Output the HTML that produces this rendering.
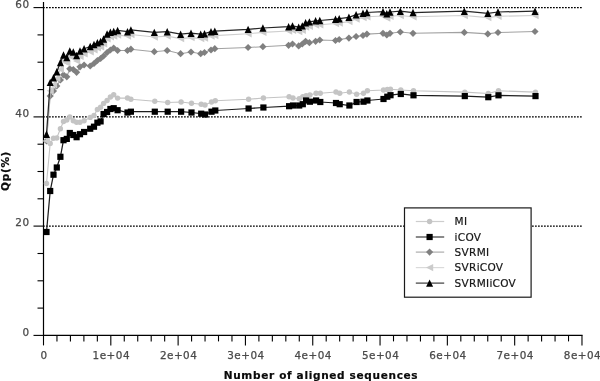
<!DOCTYPE html>
<html lang="en"><head><meta charset="utf-8"><title>Qp(%) vs Number of aligned sequences</title>
<style>html,body{margin:0;padding:0;background:#fff;width:600px;height:381px;overflow:hidden}</style>
</head><body>
<svg width="600" height="381" viewBox="0 0 600 381" style="display:block;position:absolute;left:0;top:0">
<rect width="600" height="381" fill="#fff"/>
<line x1="43" y1="226.1" x2="582" y2="226.1" stroke="#000" stroke-width="1.15" stroke-dasharray="1.75 1.25"/>
<line x1="43" y1="116.9" x2="582" y2="116.9" stroke="#000" stroke-width="1.15" stroke-dasharray="1.75 1.25"/>
<line x1="43" y1="7.6" x2="582" y2="7.6" stroke="#000" stroke-width="1.15" stroke-dasharray="1.75 1.25"/>
<line x1="43.5" y1="2" x2="43.5" y2="336.0" stroke="#000" stroke-width="1.2"/>
<line x1="42.9" y1="335.4" x2="582.6" y2="335.4" stroke="#000" stroke-width="1.2"/>
<line x1="33.5" y1="335.4" x2="43.5" y2="335.4" stroke="#000" stroke-width="1.1"/>
<line x1="37.5" y1="308.1" x2="43.5" y2="308.1" stroke="#000" stroke-width="1.1"/>
<line x1="37.5" y1="280.8" x2="43.5" y2="280.8" stroke="#000" stroke-width="1.1"/>
<line x1="37.5" y1="253.5" x2="43.5" y2="253.5" stroke="#000" stroke-width="1.1"/>
<line x1="33.5" y1="226.1" x2="43.5" y2="226.1" stroke="#000" stroke-width="1.1"/>
<line x1="37.5" y1="198.8" x2="43.5" y2="198.8" stroke="#000" stroke-width="1.1"/>
<line x1="37.5" y1="171.5" x2="43.5" y2="171.5" stroke="#000" stroke-width="1.1"/>
<line x1="37.5" y1="144.2" x2="43.5" y2="144.2" stroke="#000" stroke-width="1.1"/>
<line x1="33.5" y1="116.9" x2="43.5" y2="116.9" stroke="#000" stroke-width="1.1"/>
<line x1="37.5" y1="89.6" x2="43.5" y2="89.6" stroke="#000" stroke-width="1.1"/>
<line x1="37.5" y1="62.2" x2="43.5" y2="62.2" stroke="#000" stroke-width="1.1"/>
<line x1="37.5" y1="34.9" x2="43.5" y2="34.9" stroke="#000" stroke-width="1.1"/>
<line x1="33.5" y1="7.6" x2="43.5" y2="7.6" stroke="#000" stroke-width="1.1"/>
<line x1="43.50" y1="335.4" x2="43.50" y2="345.4" stroke="#000" stroke-width="1.1"/>
<line x1="56.96" y1="335.4" x2="56.96" y2="341.4" stroke="#000" stroke-width="1.1"/>
<line x1="70.42" y1="335.4" x2="70.42" y2="341.4" stroke="#000" stroke-width="1.1"/>
<line x1="83.89" y1="335.4" x2="83.89" y2="341.4" stroke="#000" stroke-width="1.1"/>
<line x1="97.35" y1="335.4" x2="97.35" y2="341.4" stroke="#000" stroke-width="1.1"/>
<line x1="110.81" y1="335.4" x2="110.81" y2="345.4" stroke="#000" stroke-width="1.1"/>
<line x1="124.27" y1="335.4" x2="124.27" y2="341.4" stroke="#000" stroke-width="1.1"/>
<line x1="137.73" y1="335.4" x2="137.73" y2="341.4" stroke="#000" stroke-width="1.1"/>
<line x1="151.20" y1="335.4" x2="151.20" y2="341.4" stroke="#000" stroke-width="1.1"/>
<line x1="164.66" y1="335.4" x2="164.66" y2="341.4" stroke="#000" stroke-width="1.1"/>
<line x1="178.12" y1="335.4" x2="178.12" y2="345.4" stroke="#000" stroke-width="1.1"/>
<line x1="191.58" y1="335.4" x2="191.58" y2="341.4" stroke="#000" stroke-width="1.1"/>
<line x1="205.04" y1="335.4" x2="205.04" y2="341.4" stroke="#000" stroke-width="1.1"/>
<line x1="218.51" y1="335.4" x2="218.51" y2="341.4" stroke="#000" stroke-width="1.1"/>
<line x1="231.97" y1="335.4" x2="231.97" y2="341.4" stroke="#000" stroke-width="1.1"/>
<line x1="245.43" y1="335.4" x2="245.43" y2="345.4" stroke="#000" stroke-width="1.1"/>
<line x1="258.89" y1="335.4" x2="258.89" y2="341.4" stroke="#000" stroke-width="1.1"/>
<line x1="272.35" y1="335.4" x2="272.35" y2="341.4" stroke="#000" stroke-width="1.1"/>
<line x1="285.82" y1="335.4" x2="285.82" y2="341.4" stroke="#000" stroke-width="1.1"/>
<line x1="299.28" y1="335.4" x2="299.28" y2="341.4" stroke="#000" stroke-width="1.1"/>
<line x1="312.74" y1="335.4" x2="312.74" y2="345.4" stroke="#000" stroke-width="1.1"/>
<line x1="326.20" y1="335.4" x2="326.20" y2="341.4" stroke="#000" stroke-width="1.1"/>
<line x1="339.66" y1="335.4" x2="339.66" y2="341.4" stroke="#000" stroke-width="1.1"/>
<line x1="353.13" y1="335.4" x2="353.13" y2="341.4" stroke="#000" stroke-width="1.1"/>
<line x1="366.59" y1="335.4" x2="366.59" y2="341.4" stroke="#000" stroke-width="1.1"/>
<line x1="380.05" y1="335.4" x2="380.05" y2="345.4" stroke="#000" stroke-width="1.1"/>
<line x1="393.51" y1="335.4" x2="393.51" y2="341.4" stroke="#000" stroke-width="1.1"/>
<line x1="406.97" y1="335.4" x2="406.97" y2="341.4" stroke="#000" stroke-width="1.1"/>
<line x1="420.44" y1="335.4" x2="420.44" y2="341.4" stroke="#000" stroke-width="1.1"/>
<line x1="433.90" y1="335.4" x2="433.90" y2="341.4" stroke="#000" stroke-width="1.1"/>
<line x1="447.36" y1="335.4" x2="447.36" y2="345.4" stroke="#000" stroke-width="1.1"/>
<line x1="460.82" y1="335.4" x2="460.82" y2="341.4" stroke="#000" stroke-width="1.1"/>
<line x1="474.28" y1="335.4" x2="474.28" y2="341.4" stroke="#000" stroke-width="1.1"/>
<line x1="487.75" y1="335.4" x2="487.75" y2="341.4" stroke="#000" stroke-width="1.1"/>
<line x1="501.21" y1="335.4" x2="501.21" y2="341.4" stroke="#000" stroke-width="1.1"/>
<line x1="514.67" y1="335.4" x2="514.67" y2="345.4" stroke="#000" stroke-width="1.1"/>
<line x1="528.13" y1="335.4" x2="528.13" y2="341.4" stroke="#000" stroke-width="1.1"/>
<line x1="541.59" y1="335.4" x2="541.59" y2="341.4" stroke="#000" stroke-width="1.1"/>
<line x1="555.06" y1="335.4" x2="555.06" y2="341.4" stroke="#000" stroke-width="1.1"/>
<line x1="568.52" y1="335.4" x2="568.52" y2="341.4" stroke="#000" stroke-width="1.1"/>
<line x1="581.98" y1="335.4" x2="581.98" y2="345.4" stroke="#000" stroke-width="1.1"/>
<g font-family="'DejaVu Sans','Liberation Sans',sans-serif" font-size="10.4" fill="#4a4a4a" stroke="#4a4a4a" stroke-width="0.25" letter-spacing="0.5">
<text x="29.6" y="335.7" text-anchor="end">0</text>
<text x="29.6" y="226.4" text-anchor="end">20</text>
<text x="29.6" y="117.2" text-anchor="end">40</text>
<text x="29.6" y="7.9" text-anchor="end">60</text>
<text x="44.0" y="359.2" text-anchor="middle">0</text>
<text x="111.3" y="359.2" text-anchor="middle">1e+04</text>
<text x="178.6" y="359.2" text-anchor="middle">2e+04</text>
<text x="245.9" y="359.2" text-anchor="middle">3e+04</text>
<text x="313.2" y="359.2" text-anchor="middle">4e+04</text>
<text x="380.6" y="359.2" text-anchor="middle">5e+04</text>
<text x="447.9" y="359.2" text-anchor="middle">6e+04</text>
<text x="515.2" y="359.2" text-anchor="middle">7e+04</text>
<text x="582.5" y="359.2" text-anchor="middle">8e+04</text>
</g>
<g font-family="'DejaVu Sans','Liberation Sans',sans-serif" font-size="10.5" font-weight="bold" fill="#0a0a0a" stroke="#0a0a0a" stroke-width="0.2" letter-spacing="0.68">
<text x="321" y="379.1" text-anchor="middle">Number of aligned sequences</text>
<text transform="translate(8.6,170.9) rotate(-90)" text-anchor="middle">Qp(%)</text>
</g>
<polyline points="46.5,183.5 50.2,143.4 53.5,138.2 56.8,138.0 60.4,128.8 63.5,121.5 66.8,120.0 69.8,117.0 73.3,120.7 76.6,122.2 80.0,122.2 84.1,120.7 90.2,117.4 94.0,115.5 97.4,109.5 100.6,107.2 103.6,103.4 107.1,100.5 110.4,97.0 113.7,94.7 117.6,98.1 127.5,98.0 130.9,99.2 154.8,101.2 167.7,102.5 181.1,102.0 191.5,103.2 201.2,104.2 205.0,105.0 211.5,102.0 215.3,100.7 248.6,99.3 263.4,98.0 289.1,96.7 293.0,98.0 299.2,98.7 302.8,96.7 306.1,95.7 309.9,95.0 316.1,93.2 320.3,93.2 336.0,92.0 339.7,93.2 349.4,92.0 356.6,94.2 363.5,93.2 367.4,90.7 383.5,90.0 387.3,89.5 390.5,89.2 400.8,90.0 413.5,90.8 464.8,92.1 488.3,93.5 498.5,90.8 535.5,92.1" fill="none" stroke="#c4c4c4" stroke-width="1.1"/>
<circle cx="46.5" cy="183.5" r="2.7" fill="#c4c4c4"/><circle cx="50.2" cy="143.4" r="2.7" fill="#c4c4c4"/><circle cx="53.5" cy="138.2" r="2.7" fill="#c4c4c4"/><circle cx="56.8" cy="138.0" r="2.7" fill="#c4c4c4"/><circle cx="60.4" cy="128.8" r="2.7" fill="#c4c4c4"/><circle cx="63.5" cy="121.5" r="2.7" fill="#c4c4c4"/><circle cx="66.8" cy="120.0" r="2.7" fill="#c4c4c4"/><circle cx="69.8" cy="117.0" r="2.7" fill="#c4c4c4"/><circle cx="73.3" cy="120.7" r="2.7" fill="#c4c4c4"/><circle cx="76.6" cy="122.2" r="2.7" fill="#c4c4c4"/><circle cx="80.0" cy="122.2" r="2.7" fill="#c4c4c4"/><circle cx="84.1" cy="120.7" r="2.7" fill="#c4c4c4"/><circle cx="90.2" cy="117.4" r="2.7" fill="#c4c4c4"/><circle cx="94.0" cy="115.5" r="2.7" fill="#c4c4c4"/><circle cx="97.4" cy="109.5" r="2.7" fill="#c4c4c4"/><circle cx="100.6" cy="107.2" r="2.7" fill="#c4c4c4"/><circle cx="103.6" cy="103.4" r="2.7" fill="#c4c4c4"/><circle cx="107.1" cy="100.5" r="2.7" fill="#c4c4c4"/><circle cx="110.4" cy="97.0" r="2.7" fill="#c4c4c4"/><circle cx="113.7" cy="94.7" r="2.7" fill="#c4c4c4"/><circle cx="117.6" cy="98.1" r="2.7" fill="#c4c4c4"/><circle cx="127.5" cy="98.0" r="2.7" fill="#c4c4c4"/><circle cx="130.9" cy="99.2" r="2.7" fill="#c4c4c4"/><circle cx="154.8" cy="101.2" r="2.7" fill="#c4c4c4"/><circle cx="167.7" cy="102.5" r="2.7" fill="#c4c4c4"/><circle cx="181.1" cy="102.0" r="2.7" fill="#c4c4c4"/><circle cx="191.5" cy="103.2" r="2.7" fill="#c4c4c4"/><circle cx="201.2" cy="104.2" r="2.7" fill="#c4c4c4"/><circle cx="205.0" cy="105.0" r="2.7" fill="#c4c4c4"/><circle cx="211.5" cy="102.0" r="2.7" fill="#c4c4c4"/><circle cx="215.3" cy="100.7" r="2.7" fill="#c4c4c4"/><circle cx="248.6" cy="99.3" r="2.7" fill="#c4c4c4"/><circle cx="263.4" cy="98.0" r="2.7" fill="#c4c4c4"/><circle cx="289.1" cy="96.7" r="2.7" fill="#c4c4c4"/><circle cx="293.0" cy="98.0" r="2.7" fill="#c4c4c4"/><circle cx="299.2" cy="98.7" r="2.7" fill="#c4c4c4"/><circle cx="302.8" cy="96.7" r="2.7" fill="#c4c4c4"/><circle cx="306.1" cy="95.7" r="2.7" fill="#c4c4c4"/><circle cx="309.9" cy="95.0" r="2.7" fill="#c4c4c4"/><circle cx="316.1" cy="93.2" r="2.7" fill="#c4c4c4"/><circle cx="320.3" cy="93.2" r="2.7" fill="#c4c4c4"/><circle cx="336.0" cy="92.0" r="2.7" fill="#c4c4c4"/><circle cx="339.7" cy="93.2" r="2.7" fill="#c4c4c4"/><circle cx="349.4" cy="92.0" r="2.7" fill="#c4c4c4"/><circle cx="356.6" cy="94.2" r="2.7" fill="#c4c4c4"/><circle cx="363.5" cy="93.2" r="2.7" fill="#c4c4c4"/><circle cx="367.4" cy="90.7" r="2.7" fill="#c4c4c4"/><circle cx="383.5" cy="90.0" r="2.7" fill="#c4c4c4"/><circle cx="387.3" cy="89.5" r="2.7" fill="#c4c4c4"/><circle cx="390.5" cy="89.2" r="2.7" fill="#c4c4c4"/><circle cx="400.8" cy="90.0" r="2.7" fill="#c4c4c4"/><circle cx="413.5" cy="90.8" r="2.7" fill="#c4c4c4"/><circle cx="464.8" cy="92.1" r="2.7" fill="#c4c4c4"/><circle cx="488.3" cy="93.5" r="2.7" fill="#c4c4c4"/><circle cx="498.5" cy="90.8" r="2.7" fill="#c4c4c4"/><circle cx="535.5" cy="92.1" r="2.7" fill="#c4c4c4"/>
<polyline points="46.5,232.0 50.2,191.0 53.5,174.7 56.8,167.5 60.4,156.8 63.5,140.2 66.8,138.9 69.8,133.0 73.3,135.0 76.6,137.2 80.0,134.2 84.1,132.0 90.2,128.7 94.0,126.7 97.4,122.7 100.6,121.4 103.6,114.0 107.1,112.0 110.4,109.0 113.7,108.2 117.6,110.2 127.5,112.5 130.9,111.7 154.8,111.7 167.7,111.7 181.1,111.7 191.5,112.5 201.2,113.7 205.0,114.5 211.5,111.7 215.3,110.5 248.6,108.5 263.4,107.5 289.1,106.2 293.0,105.5 299.2,105.5 302.8,104.2 306.1,100.5 309.9,101.7 316.1,100.5 320.3,102.0 336.0,103.0 339.7,104.2 349.4,105.5 356.6,102.0 363.5,101.7 367.4,100.5 383.5,99.0 387.3,96.7 390.5,95.2 400.8,94.0 413.5,95.3 464.8,96.1 488.3,97.2 498.5,95.3 535.5,96.1" fill="none" stroke="#1e1e1e" stroke-width="1.25"/>
<rect x="43.4" y="228.9" width="6.2" height="6.2" fill="#000"/><rect x="47.1" y="187.9" width="6.2" height="6.2" fill="#000"/><rect x="50.4" y="171.6" width="6.2" height="6.2" fill="#000"/><rect x="53.7" y="164.4" width="6.2" height="6.2" fill="#000"/><rect x="57.3" y="153.7" width="6.2" height="6.2" fill="#000"/><rect x="60.4" y="137.1" width="6.2" height="6.2" fill="#000"/><rect x="63.7" y="135.8" width="6.2" height="6.2" fill="#000"/><rect x="66.7" y="129.9" width="6.2" height="6.2" fill="#000"/><rect x="70.2" y="131.9" width="6.2" height="6.2" fill="#000"/><rect x="73.5" y="134.1" width="6.2" height="6.2" fill="#000"/><rect x="76.9" y="131.1" width="6.2" height="6.2" fill="#000"/><rect x="81.0" y="128.9" width="6.2" height="6.2" fill="#000"/><rect x="87.1" y="125.6" width="6.2" height="6.2" fill="#000"/><rect x="90.9" y="123.6" width="6.2" height="6.2" fill="#000"/><rect x="94.3" y="119.6" width="6.2" height="6.2" fill="#000"/><rect x="97.5" y="118.3" width="6.2" height="6.2" fill="#000"/><rect x="100.5" y="110.9" width="6.2" height="6.2" fill="#000"/><rect x="104.0" y="108.9" width="6.2" height="6.2" fill="#000"/><rect x="107.3" y="105.9" width="6.2" height="6.2" fill="#000"/><rect x="110.6" y="105.1" width="6.2" height="6.2" fill="#000"/><rect x="114.5" y="107.1" width="6.2" height="6.2" fill="#000"/><rect x="124.4" y="109.4" width="6.2" height="6.2" fill="#000"/><rect x="127.8" y="108.6" width="6.2" height="6.2" fill="#000"/><rect x="151.7" y="108.6" width="6.2" height="6.2" fill="#000"/><rect x="164.6" y="108.6" width="6.2" height="6.2" fill="#000"/><rect x="178.0" y="108.6" width="6.2" height="6.2" fill="#000"/><rect x="188.4" y="109.4" width="6.2" height="6.2" fill="#000"/><rect x="198.1" y="110.6" width="6.2" height="6.2" fill="#000"/><rect x="201.9" y="111.4" width="6.2" height="6.2" fill="#000"/><rect x="208.4" y="108.6" width="6.2" height="6.2" fill="#000"/><rect x="212.2" y="107.4" width="6.2" height="6.2" fill="#000"/><rect x="245.5" y="105.4" width="6.2" height="6.2" fill="#000"/><rect x="260.3" y="104.4" width="6.2" height="6.2" fill="#000"/><rect x="286.0" y="103.1" width="6.2" height="6.2" fill="#000"/><rect x="289.9" y="102.4" width="6.2" height="6.2" fill="#000"/><rect x="296.1" y="102.4" width="6.2" height="6.2" fill="#000"/><rect x="299.7" y="101.1" width="6.2" height="6.2" fill="#000"/><rect x="303.0" y="97.4" width="6.2" height="6.2" fill="#000"/><rect x="306.8" y="98.6" width="6.2" height="6.2" fill="#000"/><rect x="313.0" y="97.4" width="6.2" height="6.2" fill="#000"/><rect x="317.2" y="98.9" width="6.2" height="6.2" fill="#000"/><rect x="332.9" y="99.9" width="6.2" height="6.2" fill="#000"/><rect x="336.6" y="101.1" width="6.2" height="6.2" fill="#000"/><rect x="346.3" y="102.4" width="6.2" height="6.2" fill="#000"/><rect x="353.5" y="98.9" width="6.2" height="6.2" fill="#000"/><rect x="360.4" y="98.6" width="6.2" height="6.2" fill="#000"/><rect x="364.3" y="97.4" width="6.2" height="6.2" fill="#000"/><rect x="380.4" y="95.9" width="6.2" height="6.2" fill="#000"/><rect x="384.2" y="93.6" width="6.2" height="6.2" fill="#000"/><rect x="387.4" y="92.1" width="6.2" height="6.2" fill="#000"/><rect x="397.7" y="90.9" width="6.2" height="6.2" fill="#000"/><rect x="410.4" y="92.2" width="6.2" height="6.2" fill="#000"/><rect x="461.7" y="93.0" width="6.2" height="6.2" fill="#000"/><rect x="485.2" y="94.1" width="6.2" height="6.2" fill="#000"/><rect x="495.4" y="92.2" width="6.2" height="6.2" fill="#000"/><rect x="532.4" y="93.0" width="6.2" height="6.2" fill="#000"/>
<polyline points="46.5,141.0 50.2,96.0 53.5,91.0 56.8,86.0 60.4,80.0 63.5,74.8 66.8,76.8 69.8,68.8 73.3,69.5 76.6,72.3 80.0,66.8 84.1,65.0 90.2,66.0 94.0,63.5 97.4,60.5 100.6,58.5 103.6,56.0 107.1,52.5 110.4,50.0 113.7,48.0 117.6,50.5 127.5,50.5 130.9,49.2 154.3,51.7 167.2,50.5 180.6,53.7 191.0,52.0 200.7,53.7 204.5,52.5 211.0,50.0 214.8,48.7 248.1,47.5 262.9,46.7 288.6,45.3 292.5,44.0 298.7,45.9 302.3,44.0 305.6,41.3 309.4,42.7 315.6,41.3 319.8,40.0 335.5,40.5 339.2,39.5 348.9,38.1 356.1,36.5 363.0,35.5 366.9,34.1 383.0,33.3 386.8,35.0 390.0,33.3 400.3,32.0 413.0,33.3 464.3,32.4 487.8,33.9 498.0,32.5 535.0,31.5" fill="none" stroke="#a2a2a2" stroke-width="1.1"/>
<path d="M46.5 137.4L50.1 141.0L46.5 144.6L42.9 141.0Z" fill="#808080"/><path d="M50.2 92.4L53.8 96.0L50.2 99.6L46.6 96.0Z" fill="#808080"/><path d="M53.5 87.4L57.1 91.0L53.5 94.6L49.9 91.0Z" fill="#808080"/><path d="M56.8 82.4L60.4 86.0L56.8 89.6L53.2 86.0Z" fill="#808080"/><path d="M60.4 76.4L64.0 80.0L60.4 83.6L56.8 80.0Z" fill="#808080"/><path d="M63.5 71.2L67.1 74.8L63.5 78.4L59.9 74.8Z" fill="#808080"/><path d="M66.8 73.2L70.4 76.8L66.8 80.4L63.2 76.8Z" fill="#808080"/><path d="M69.8 65.2L73.4 68.8L69.8 72.4L66.2 68.8Z" fill="#808080"/><path d="M73.3 65.9L76.9 69.5L73.3 73.1L69.7 69.5Z" fill="#808080"/><path d="M76.6 68.7L80.2 72.3L76.6 75.9L73.0 72.3Z" fill="#808080"/><path d="M80.0 63.2L83.6 66.8L80.0 70.4L76.4 66.8Z" fill="#808080"/><path d="M84.1 61.4L87.7 65.0L84.1 68.6L80.5 65.0Z" fill="#808080"/><path d="M90.2 62.4L93.8 66.0L90.2 69.6L86.6 66.0Z" fill="#808080"/><path d="M94.0 59.9L97.6 63.5L94.0 67.1L90.4 63.5Z" fill="#808080"/><path d="M97.4 56.9L101.0 60.5L97.4 64.1L93.8 60.5Z" fill="#808080"/><path d="M100.6 54.9L104.2 58.5L100.6 62.1L97.0 58.5Z" fill="#808080"/><path d="M103.6 52.4L107.2 56.0L103.6 59.6L100.0 56.0Z" fill="#808080"/><path d="M107.1 48.9L110.7 52.5L107.1 56.1L103.5 52.5Z" fill="#808080"/><path d="M110.4 46.4L114.0 50.0L110.4 53.6L106.8 50.0Z" fill="#808080"/><path d="M113.7 44.4L117.3 48.0L113.7 51.6L110.1 48.0Z" fill="#808080"/><path d="M117.6 46.9L121.2 50.5L117.6 54.1L114.0 50.5Z" fill="#808080"/><path d="M127.5 46.9L131.1 50.5L127.5 54.1L123.9 50.5Z" fill="#808080"/><path d="M130.9 45.6L134.5 49.2L130.9 52.8L127.3 49.2Z" fill="#808080"/><path d="M154.3 48.1L157.9 51.7L154.3 55.3L150.7 51.7Z" fill="#808080"/><path d="M167.2 46.9L170.8 50.5L167.2 54.1L163.6 50.5Z" fill="#808080"/><path d="M180.6 50.1L184.2 53.7L180.6 57.3L177.0 53.7Z" fill="#808080"/><path d="M191.0 48.4L194.6 52.0L191.0 55.6L187.4 52.0Z" fill="#808080"/><path d="M200.7 50.1L204.3 53.7L200.7 57.3L197.1 53.7Z" fill="#808080"/><path d="M204.5 48.9L208.1 52.5L204.5 56.1L200.9 52.5Z" fill="#808080"/><path d="M211.0 46.4L214.6 50.0L211.0 53.6L207.4 50.0Z" fill="#808080"/><path d="M214.8 45.1L218.4 48.7L214.8 52.3L211.2 48.7Z" fill="#808080"/><path d="M248.1 43.9L251.7 47.5L248.1 51.1L244.5 47.5Z" fill="#808080"/><path d="M262.9 43.1L266.5 46.7L262.9 50.3L259.3 46.7Z" fill="#808080"/><path d="M288.6 41.7L292.2 45.3L288.6 48.9L285.0 45.3Z" fill="#808080"/><path d="M292.5 40.4L296.1 44.0L292.5 47.6L288.9 44.0Z" fill="#808080"/><path d="M298.7 42.3L302.3 45.9L298.7 49.5L295.1 45.9Z" fill="#808080"/><path d="M302.3 40.4L305.9 44.0L302.3 47.6L298.7 44.0Z" fill="#808080"/><path d="M305.6 37.7L309.2 41.3L305.6 44.9L302.0 41.3Z" fill="#808080"/><path d="M309.4 39.1L313.0 42.7L309.4 46.3L305.8 42.7Z" fill="#808080"/><path d="M315.6 37.7L319.2 41.3L315.6 44.9L312.0 41.3Z" fill="#808080"/><path d="M319.8 36.4L323.4 40.0L319.8 43.6L316.2 40.0Z" fill="#808080"/><path d="M335.5 36.9L339.1 40.5L335.5 44.1L331.9 40.5Z" fill="#808080"/><path d="M339.2 35.9L342.8 39.5L339.2 43.1L335.6 39.5Z" fill="#808080"/><path d="M348.9 34.5L352.5 38.1L348.9 41.7L345.3 38.1Z" fill="#808080"/><path d="M356.1 32.9L359.7 36.5L356.1 40.1L352.5 36.5Z" fill="#808080"/><path d="M363.0 31.9L366.6 35.5L363.0 39.1L359.4 35.5Z" fill="#808080"/><path d="M366.9 30.5L370.5 34.1L366.9 37.7L363.3 34.1Z" fill="#808080"/><path d="M383.0 29.7L386.6 33.3L383.0 36.9L379.4 33.3Z" fill="#808080"/><path d="M386.8 31.4L390.4 35.0L386.8 38.6L383.2 35.0Z" fill="#808080"/><path d="M390.0 29.7L393.6 33.3L390.0 36.9L386.4 33.3Z" fill="#808080"/><path d="M400.3 28.4L403.9 32.0L400.3 35.6L396.7 32.0Z" fill="#808080"/><path d="M413.0 29.7L416.6 33.3L413.0 36.9L409.4 33.3Z" fill="#808080"/><path d="M464.3 28.8L467.9 32.4L464.3 36.0L460.7 32.4Z" fill="#808080"/><path d="M487.8 30.3L491.4 33.9L487.8 37.5L484.2 33.9Z" fill="#808080"/><path d="M498.0 28.9L501.6 32.5L498.0 36.1L494.4 32.5Z" fill="#808080"/><path d="M535.0 27.9L538.6 31.5L535.0 35.1L531.4 31.5Z" fill="#808080"/>
<polyline points="46.5,141.0 50.2,90.8 53.5,84.8 56.8,78.3 60.4,69.4 63.5,60.9 66.8,62.9 69.8,56.4 73.3,57.4 76.6,60.9 80.0,56.4 84.1,53.9 90.2,51.7 94.0,49.7 97.4,47.9 100.6,46.7 103.6,43.9 107.1,38.8 110.4,36.8 113.7,36.0 117.6,35.1 127.5,36.1 130.9,34.5 154.3,37.0 167.2,36.1 180.6,38.6 191.0,37.6 200.7,38.6 204.5,38.1 211.0,36.1 214.8,35.6 248.1,33.8 262.9,32.4 288.6,31.0 292.5,30.2 298.7,31.5 302.3,30.2 305.6,27.0 309.4,26.2 315.6,25.1 319.8,24.8 335.5,23.5 339.2,23.0 348.9,21.6 356.1,19.0 363.0,17.6 366.9,16.8 383.0,16.0 386.8,18.0 390.0,16.3 400.3,15.5 413.0,16.8 464.3,15.5 487.8,17.6 498.0,16.3 535.0,15.5" fill="none" stroke="#cecece" stroke-width="1.1"/>
<path d="M42.9 141.0L50.1 137.3L50.1 144.7Z" fill="#cbcbcb"/><path d="M46.6 90.8L53.8 87.1L53.8 94.5Z" fill="#cbcbcb"/><path d="M49.9 84.8L57.1 81.1L57.1 88.5Z" fill="#cbcbcb"/><path d="M53.2 78.3L60.4 74.6L60.4 82.0Z" fill="#cbcbcb"/><path d="M56.8 69.4L64.0 65.7L64.0 73.1Z" fill="#cbcbcb"/><path d="M59.9 60.9L67.1 57.2L67.1 64.6Z" fill="#cbcbcb"/><path d="M63.2 62.9L70.4 59.2L70.4 66.6Z" fill="#cbcbcb"/><path d="M66.2 56.4L73.4 52.7L73.4 60.1Z" fill="#cbcbcb"/><path d="M69.7 57.4L76.9 53.7L76.9 61.1Z" fill="#cbcbcb"/><path d="M73.0 60.9L80.2 57.2L80.2 64.6Z" fill="#cbcbcb"/><path d="M76.4 56.4L83.6 52.7L83.6 60.1Z" fill="#cbcbcb"/><path d="M80.5 53.9L87.7 50.2L87.7 57.6Z" fill="#cbcbcb"/><path d="M86.6 51.7L93.8 48.0L93.8 55.4Z" fill="#cbcbcb"/><path d="M90.4 49.7L97.6 46.0L97.6 53.4Z" fill="#cbcbcb"/><path d="M93.8 47.9L101.0 44.2L101.0 51.6Z" fill="#cbcbcb"/><path d="M97.0 46.7L104.2 43.0L104.2 50.4Z" fill="#cbcbcb"/><path d="M100.0 43.9L107.2 40.2L107.2 47.6Z" fill="#cbcbcb"/><path d="M103.5 38.8L110.7 35.1L110.7 42.5Z" fill="#cbcbcb"/><path d="M106.8 36.8L114.0 33.1L114.0 40.5Z" fill="#cbcbcb"/><path d="M110.1 36.0L117.3 32.3L117.3 39.7Z" fill="#cbcbcb"/><path d="M114.0 35.1L121.2 31.4L121.2 38.8Z" fill="#cbcbcb"/><path d="M123.9 36.1L131.1 32.4L131.1 39.8Z" fill="#cbcbcb"/><path d="M127.3 34.5L134.5 30.8L134.5 38.2Z" fill="#cbcbcb"/><path d="M150.7 37.0L157.9 33.3L157.9 40.7Z" fill="#cbcbcb"/><path d="M163.6 36.1L170.8 32.4L170.8 39.8Z" fill="#cbcbcb"/><path d="M177.0 38.6L184.2 34.9L184.2 42.3Z" fill="#cbcbcb"/><path d="M187.4 37.6L194.6 33.9L194.6 41.3Z" fill="#cbcbcb"/><path d="M197.1 38.6L204.3 34.9L204.3 42.3Z" fill="#cbcbcb"/><path d="M200.9 38.1L208.1 34.4L208.1 41.8Z" fill="#cbcbcb"/><path d="M207.4 36.1L214.6 32.4L214.6 39.8Z" fill="#cbcbcb"/><path d="M211.2 35.6L218.4 31.9L218.4 39.3Z" fill="#cbcbcb"/><path d="M244.5 33.8L251.7 30.1L251.7 37.5Z" fill="#cbcbcb"/><path d="M259.3 32.4L266.5 28.7L266.5 36.1Z" fill="#cbcbcb"/><path d="M285.0 31.0L292.2 27.3L292.2 34.7Z" fill="#cbcbcb"/><path d="M288.9 30.2L296.1 26.5L296.1 33.9Z" fill="#cbcbcb"/><path d="M295.1 31.5L302.3 27.8L302.3 35.2Z" fill="#cbcbcb"/><path d="M298.7 30.2L305.9 26.5L305.9 33.9Z" fill="#cbcbcb"/><path d="M302.0 27.0L309.2 23.3L309.2 30.7Z" fill="#cbcbcb"/><path d="M305.8 26.2L313.0 22.5L313.0 29.9Z" fill="#cbcbcb"/><path d="M312.0 25.1L319.2 21.4L319.2 28.8Z" fill="#cbcbcb"/><path d="M316.2 24.8L323.4 21.1L323.4 28.5Z" fill="#cbcbcb"/><path d="M331.9 23.5L339.1 19.8L339.1 27.2Z" fill="#cbcbcb"/><path d="M335.6 23.0L342.8 19.3L342.8 26.7Z" fill="#cbcbcb"/><path d="M345.3 21.6L352.5 17.9L352.5 25.3Z" fill="#cbcbcb"/><path d="M352.5 19.0L359.7 15.3L359.7 22.7Z" fill="#cbcbcb"/><path d="M359.4 17.6L366.6 13.9L366.6 21.3Z" fill="#cbcbcb"/><path d="M363.3 16.8L370.5 13.1L370.5 20.5Z" fill="#cbcbcb"/><path d="M379.4 16.0L386.6 12.3L386.6 19.7Z" fill="#cbcbcb"/><path d="M383.2 18.0L390.4 14.3L390.4 21.7Z" fill="#cbcbcb"/><path d="M386.4 16.3L393.6 12.6L393.6 20.0Z" fill="#cbcbcb"/><path d="M396.7 15.5L403.9 11.8L403.9 19.2Z" fill="#cbcbcb"/><path d="M409.4 16.8L416.6 13.1L416.6 20.5Z" fill="#cbcbcb"/><path d="M460.7 15.5L467.9 11.8L467.9 19.2Z" fill="#cbcbcb"/><path d="M484.2 17.6L491.4 13.9L491.4 21.3Z" fill="#cbcbcb"/><path d="M494.4 16.3L501.6 12.6L501.6 20.0Z" fill="#cbcbcb"/><path d="M531.4 15.5L538.6 11.8L538.6 19.2Z" fill="#cbcbcb"/>
<polyline points="46.5,134.3 50.2,82.4 53.5,77.8 56.8,71.7 60.4,62.5 63.5,55.0 66.8,57.5 69.8,51.0 73.3,52.0 76.6,55.5 80.0,51.0 84.1,48.7 90.2,46.5 94.0,44.5 97.4,42.7 100.6,41.5 103.6,39.0 107.1,34.0 110.4,32.3 113.7,31.5 117.6,30.5 127.5,31.7 130.9,30.0 154.3,32.4 167.2,31.7 180.6,34.2 191.0,33.2 200.7,34.2 204.5,33.7 211.0,31.7 214.8,31.2 248.1,29.4 262.9,28.0 288.6,26.7 292.5,25.9 298.7,27.2 302.3,25.9 305.6,22.7 309.4,21.9 315.6,20.8 319.8,20.5 335.5,19.2 339.2,18.7 348.9,17.3 356.1,14.7 363.0,13.3 366.9,12.5 383.0,11.7 386.8,13.7 390.0,12.0 400.3,11.2 413.0,12.5 464.3,11.2 487.8,13.3 498.0,12.0 535.0,11.2" fill="none" stroke="#262626" stroke-width="1.25"/>
<path d="M46.5 130.6L50.0 138.0L43.0 138.0Z" fill="#000"/><path d="M50.2 78.7L53.7 86.1L46.7 86.1Z" fill="#000"/><path d="M53.5 74.1L57.0 81.5L50.0 81.5Z" fill="#000"/><path d="M56.8 68.0L60.3 75.4L53.3 75.4Z" fill="#000"/><path d="M60.4 58.8L63.9 66.2L56.9 66.2Z" fill="#000"/><path d="M63.5 51.3L67.0 58.7L60.0 58.7Z" fill="#000"/><path d="M66.8 53.8L70.3 61.2L63.3 61.2Z" fill="#000"/><path d="M69.8 47.3L73.3 54.7L66.3 54.7Z" fill="#000"/><path d="M73.3 48.3L76.8 55.7L69.8 55.7Z" fill="#000"/><path d="M76.6 51.8L80.1 59.2L73.1 59.2Z" fill="#000"/><path d="M80.0 47.3L83.5 54.7L76.5 54.7Z" fill="#000"/><path d="M84.1 45.0L87.6 52.4L80.6 52.4Z" fill="#000"/><path d="M90.2 42.8L93.7 50.2L86.7 50.2Z" fill="#000"/><path d="M94.0 40.8L97.5 48.2L90.5 48.2Z" fill="#000"/><path d="M97.4 39.0L100.9 46.4L93.9 46.4Z" fill="#000"/><path d="M100.6 37.8L104.1 45.2L97.1 45.2Z" fill="#000"/><path d="M103.6 35.3L107.1 42.7L100.1 42.7Z" fill="#000"/><path d="M107.1 30.3L110.6 37.7L103.6 37.7Z" fill="#000"/><path d="M110.4 28.6L113.9 36.0L106.9 36.0Z" fill="#000"/><path d="M113.7 27.8L117.2 35.2L110.2 35.2Z" fill="#000"/><path d="M117.6 26.8L121.1 34.2L114.1 34.2Z" fill="#000"/><path d="M127.5 28.0L131.0 35.4L124.0 35.4Z" fill="#000"/><path d="M130.9 26.3L134.4 33.7L127.4 33.7Z" fill="#000"/><path d="M154.3 28.7L157.8 36.1L150.8 36.1Z" fill="#000"/><path d="M167.2 28.0L170.7 35.4L163.7 35.4Z" fill="#000"/><path d="M180.6 30.5L184.1 37.9L177.1 37.9Z" fill="#000"/><path d="M191.0 29.5L194.5 36.9L187.5 36.9Z" fill="#000"/><path d="M200.7 30.5L204.2 37.9L197.2 37.9Z" fill="#000"/><path d="M204.5 30.0L208.0 37.4L201.0 37.4Z" fill="#000"/><path d="M211.0 28.0L214.5 35.4L207.5 35.4Z" fill="#000"/><path d="M214.8 27.5L218.3 34.9L211.3 34.9Z" fill="#000"/><path d="M248.1 25.7L251.6 33.1L244.6 33.1Z" fill="#000"/><path d="M262.9 24.3L266.4 31.7L259.4 31.7Z" fill="#000"/><path d="M288.6 23.0L292.1 30.4L285.1 30.4Z" fill="#000"/><path d="M292.5 22.2L296.0 29.6L289.0 29.6Z" fill="#000"/><path d="M298.7 23.5L302.2 30.9L295.2 30.9Z" fill="#000"/><path d="M302.3 22.2L305.8 29.6L298.8 29.6Z" fill="#000"/><path d="M305.6 19.0L309.1 26.4L302.1 26.4Z" fill="#000"/><path d="M309.4 18.2L312.9 25.6L305.9 25.6Z" fill="#000"/><path d="M315.6 17.1L319.1 24.5L312.1 24.5Z" fill="#000"/><path d="M319.8 16.8L323.3 24.2L316.3 24.2Z" fill="#000"/><path d="M335.5 15.5L339.0 22.9L332.0 22.9Z" fill="#000"/><path d="M339.2 15.0L342.7 22.4L335.7 22.4Z" fill="#000"/><path d="M348.9 13.6L352.4 21.0L345.4 21.0Z" fill="#000"/><path d="M356.1 11.0L359.6 18.4L352.6 18.4Z" fill="#000"/><path d="M363.0 9.6L366.5 17.0L359.5 17.0Z" fill="#000"/><path d="M366.9 8.8L370.4 16.2L363.4 16.2Z" fill="#000"/><path d="M383.0 8.0L386.5 15.4L379.5 15.4Z" fill="#000"/><path d="M386.8 10.0L390.3 17.4L383.3 17.4Z" fill="#000"/><path d="M390.0 8.3L393.5 15.7L386.5 15.7Z" fill="#000"/><path d="M400.3 7.5L403.8 14.9L396.8 14.9Z" fill="#000"/><path d="M413.0 8.8L416.5 16.2L409.5 16.2Z" fill="#000"/><path d="M464.3 7.5L467.8 14.9L460.8 14.9Z" fill="#000"/><path d="M487.8 9.6L491.3 17.0L484.3 17.0Z" fill="#000"/><path d="M498.0 8.3L501.5 15.7L494.5 15.7Z" fill="#000"/><path d="M535.0 7.5L538.5 14.9L531.5 14.9Z" fill="#000"/>
<rect x="404.5" y="207.9" width="126.6" height="89.3" fill="#fff" stroke="#1a1a1a" stroke-width="1.2"/>
<line x1="415.8" y1="221.5" x2="444.2" y2="221.5" stroke="#cdcdcd" stroke-width="1.2"/>
<line x1="415.8" y1="237.0" x2="444.2" y2="237.0" stroke="#3c3c3c" stroke-width="1.2"/>
<line x1="415.8" y1="252.1" x2="444.2" y2="252.1" stroke="#adadad" stroke-width="1.2"/>
<line x1="415.8" y1="267.6" x2="444.2" y2="267.6" stroke="#dadada" stroke-width="1.2"/>
<line x1="415.8" y1="283.1" x2="444.2" y2="283.1" stroke="#3c3c3c" stroke-width="1.2"/>
<circle cx="429.6" cy="221.5" r="2.7" fill="#c4c4c4"/><rect x="426.5" y="233.9" width="6.2" height="6.2" fill="#000"/><path d="M429.6 248.5L433.2 252.1L429.6 255.7L426.0 252.1Z" fill="#808080"/><path d="M426.0 267.6L433.2 263.9L433.2 271.3Z" fill="#cbcbcb"/><path d="M429.6 279.4L433.1 286.8L426.1 286.8Z" fill="#000"/>
<g font-family="'DejaVu Sans','Liberation Sans',sans-serif" font-size="10.5" fill="#151515" stroke="#151515" stroke-width="0.2" letter-spacing="0.3">
<text x="454.6" y="225.0">MI</text>
<text x="454.6" y="240.5">iCOV</text>
<text x="454.6" y="255.6">SVRMI</text>
<text x="454.6" y="271.1">SVRiCOV</text>
<text x="454.6" y="286.6">SVRMIiCOV</text>
</g>
</svg>
</body></html>
